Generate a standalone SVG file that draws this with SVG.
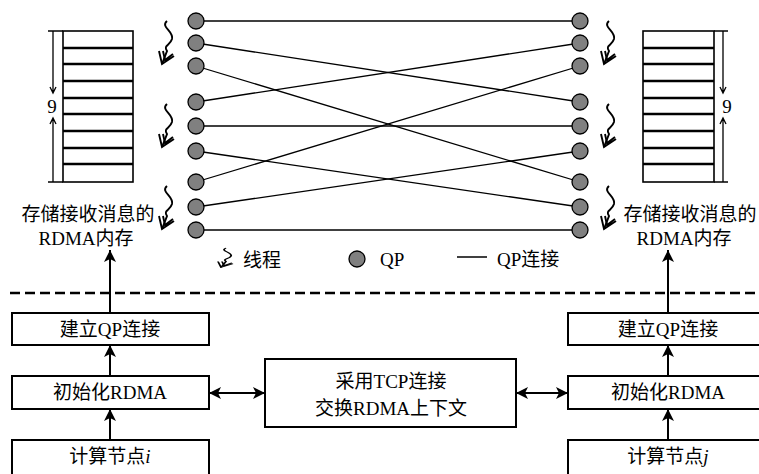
<svg xmlns="http://www.w3.org/2000/svg" xmlns:xlink="http://www.w3.org/1999/xlink" width="759" height="474" viewBox="0 0 759 474">
<style>
text{font-family:"Liberation Serif","Noto Sans CJK SC",serif;font-size:19px;fill:#000}
.box{fill:#fff;stroke:#000;stroke-width:2}
.qp{fill:#808080;stroke:#000;stroke-width:1.3}
.conn line{stroke:#000;stroke-width:1.3}
.arr{stroke:#000;stroke-width:2;fill:none}
.cell{stroke:#000;stroke-width:2.5}
.thin{stroke:#000;stroke-width:1.3;fill:none}
.thr{stroke:#000;stroke-width:1.9;fill:none;stroke-linejoin:miter}
</style>
<defs>
<marker id="ah" viewBox="0 0 12 12" refX="12" refY="6" markerWidth="12" markerHeight="12" markerUnits="userSpaceOnUse" orient="auto-start-reverse">
<path d="M0,0 L12,6 L0,12 L3,6 Z" fill="#000"/>
</marker>
<g id="thread">
<path class="thr" d="M7,0 C0,6 14,10 12,18 C10,25 3,24 7,30 L2,43"/>
<path class="thr" d="M-1,30 L2,43 L14,35 M3,30 L5,39 L13,33"/>
</g>
</defs>

<!-- left memory buffer -->
<g id="buf-left">
<rect x="63" y="31" width="70" height="151" fill="#fff" stroke="#000" stroke-width="1.6"/>
<g class="cell">
<line x1="63" y1="48" x2="133" y2="48"/><line x1="63" y1="64" x2="133" y2="64"/>
<line x1="63" y1="81" x2="133" y2="81"/><line x1="63" y1="98" x2="133" y2="98"/>
<line x1="63" y1="114" x2="133" y2="114"/><line x1="63" y1="131" x2="133" y2="131"/>
<line x1="63" y1="148" x2="133" y2="148"/><line x1="63" y1="164" x2="133" y2="164"/>
</g>
<path class="thin" d="M48,31 H63 M48,182 H63 M53,31 V93 M50,87 L53,93 L56,87 M53,182 V118 M50,124 L53,118 L56,124"/>
<text x="52" y="113" text-anchor="middle">9</text>
</g>

<!-- right memory buffer -->
<g id="buf-right">
<rect x="643" y="31" width="71" height="151" fill="#fff" stroke="#000" stroke-width="1.6"/>
<g class="cell">
<line x1="643" y1="48" x2="714" y2="48"/><line x1="643" y1="64" x2="714" y2="64"/>
<line x1="643" y1="81" x2="714" y2="81"/><line x1="643" y1="98" x2="714" y2="98"/>
<line x1="643" y1="114" x2="714" y2="114"/><line x1="643" y1="131" x2="714" y2="131"/>
<line x1="643" y1="148" x2="714" y2="148"/><line x1="643" y1="164" x2="714" y2="164"/>
</g>
<path class="thin" d="M714,31 H728 M714,182 H728 M723,31 V93 M720,87 L723,93 L726,87 M723,182 V118 M720,124 L723,118 L726,124"/>
<text x="727" y="113" text-anchor="middle">9</text>
</g>

<g id="label-left">
<text x="88" y="221" text-anchor="middle">存储接收消息的</text>
<text x="86" y="245" text-anchor="middle">RDMA内存</text>
</g>
<g id="label-right">
<text x="690" y="221" text-anchor="middle">存储接收消息的</text>
<text x="684" y="245" text-anchor="middle">RDMA内存</text>
</g>

<!-- threads -->
<g id="threads">
<use xlink:href="#thread" x="160" y="21"/>
<use xlink:href="#thread" x="160" y="104"/>
<use xlink:href="#thread" x="160" y="186"/>
<use xlink:href="#thread" x="602" y="21"/>
<use xlink:href="#thread" x="602" y="104"/>
<use xlink:href="#thread" x="602" y="186"/>
</g>

<!-- QP connections -->
<g id="connectors" class="conn">
<line x1="196" y1="21" x2="580" y2="21"/>
<line x1="196" y1="43" x2="580" y2="102"/>
<line x1="196" y1="66" x2="580" y2="182"/>
<line x1="196" y1="102" x2="580" y2="43"/>
<line x1="196" y1="126" x2="580" y2="126"/>
<line x1="196" y1="151" x2="580" y2="207"/>
<line x1="196" y1="182" x2="580" y2="66"/>
<line x1="196" y1="207" x2="580" y2="151"/>
<line x1="196" y1="230" x2="580" y2="230"/>
</g>

<g id="qp-left">
<circle class="qp" cx="196" cy="21" r="8"/><circle class="qp" cx="196" cy="43" r="8"/>
<circle class="qp" cx="196" cy="66" r="8"/><circle class="qp" cx="196" cy="102" r="8"/>
<circle class="qp" cx="196" cy="126" r="8"/><circle class="qp" cx="196" cy="151" r="8"/>
<circle class="qp" cx="196" cy="182" r="8"/><circle class="qp" cx="196" cy="207" r="8"/>
<circle class="qp" cx="196" cy="230" r="8"/>
</g>
<g id="qp-right">
<circle class="qp" cx="580" cy="21" r="8"/><circle class="qp" cx="580" cy="43" r="8"/>
<circle class="qp" cx="580" cy="66" r="8"/><circle class="qp" cx="580" cy="102" r="8"/>
<circle class="qp" cx="580" cy="126" r="8"/><circle class="qp" cx="580" cy="151" r="8"/>
<circle class="qp" cx="580" cy="182" r="8"/><circle class="qp" cx="580" cy="207" r="8"/>
<circle class="qp" cx="580" cy="230" r="8"/>
</g>

<!-- legend -->
<g id="legend">
<use xlink:href="#thread" transform="translate(219,248) scale(1,0.45)"/>
<text x="243" y="267">线程</text>
<circle class="qp" cx="357" cy="259" r="8"/>
<text x="380" y="266">QP</text>
<line x1="457" y1="257" x2="487" y2="257" stroke="#000" stroke-width="1.5"/>
<text x="497" y="266">QP连接</text>
</g>

<line id="divider" x1="10" y1="293" x2="759" y2="293" stroke="#000" stroke-width="2.5" stroke-dasharray="10,5"/>

<!-- bottom boxes -->
<g id="n-qp-left"><rect class="box" x="12" y="313" width="197" height="32"/><text x="110" y="336" text-anchor="middle">建立QP连接</text></g>
<g id="n-init-left"><rect class="box" x="12" y="376" width="197" height="33"/><text x="110" y="399" text-anchor="middle">初始化RDMA</text></g>
<g id="n-node-i"><rect class="box" x="12" y="440" width="197" height="40"/><text x="110" y="463" text-anchor="middle">计算节点<tspan font-style="italic">i</tspan></text></g>
<g id="n-tcp"><rect class="box" x="265" y="359" width="251" height="68"/><text x="391" y="388" text-anchor="middle">采用TCP连接</text><text x="391" y="415" text-anchor="middle">交换RDMA上下文</text></g>
<g id="n-qp-right"><rect class="box" x="568" y="313" width="201" height="32"/><text x="668" y="336" text-anchor="middle">建立QP连接</text></g>
<g id="n-init-right"><rect class="box" x="568" y="376" width="201" height="33"/><text x="668" y="399" text-anchor="middle">初始化RDMA</text></g>
<g id="n-node-j"><rect class="box" x="568" y="440" width="201" height="40"/><text x="668" y="463" text-anchor="middle">计算节点<tspan font-style="italic">j</tspan></text></g>

<!-- flow arrows -->
<g id="flow">
<line class="arr" x1="110" y1="440" x2="110" y2="409" marker-end="url(#ah)"/>
<line class="arr" x1="110" y1="376" x2="110" y2="345" marker-end="url(#ah)"/>
<line class="arr" x1="110" y1="313" x2="110" y2="250" marker-end="url(#ah)"/>
<line class="arr" x1="668" y1="440" x2="668" y2="409" marker-end="url(#ah)"/>
<line class="arr" x1="668" y1="376" x2="668" y2="345" marker-end="url(#ah)"/>
<line class="arr" x1="668" y1="313" x2="668" y2="250" marker-end="url(#ah)"/>
<line class="arr" x1="209" y1="393" x2="265" y2="393" marker-start="url(#ah)" marker-end="url(#ah)"/>
<line class="arr" x1="516" y1="393" x2="568" y2="393" marker-start="url(#ah)" marker-end="url(#ah)"/>
</g>
</svg>
